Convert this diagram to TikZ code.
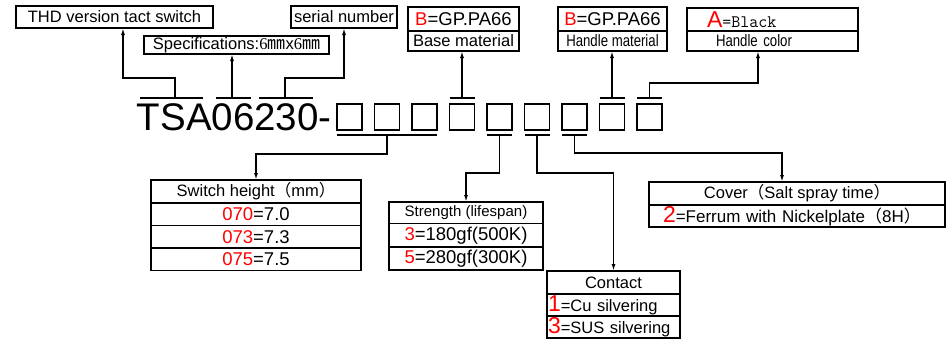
\documentclass[tikz,border=0pt]{standalone}
\usepackage{fontspec}
\setmainfont{Liberation Sans}
\newfontfamily\cjkfont{Noto Sans CJK SC}
\newfontfamily\narrowfont[FakeStretch=0.8]{Liberation Sans}
\newfontfamily\serifnum{Liberation Serif}
\usetikzlibrary{arrows.meta,positioning}

\newcommand{\redbig}[1]{{\fontsize{23}{23}\selectfont\color{red}#1}}

\begin{document}
\begin{tikzpicture}[
        x=1pt,
        y=-1pt,
        line width=1.7pt,
        cell/.style={
            draw,
            inner sep=0pt,
            outer sep=0pt,
            anchor=north west,
            font=\fontsize{16.5}{18}\selectfont,
        },
        cell-left/.style={
            cell,
            text width=#1,
            align=left,
        },
        cell-big/.style={
            font=\fontsize{18.5}{20}\selectfont,
        },
        square/.style={
            draw,
            inner sep=0pt,
            outer sep=0pt,
            anchor=north west,
            minimum width=25pt,
            minimum height=26pt,
        },
        link/.style={
            -{Latex[length=7pt,width=4pt]},
        },
    ]
    \useasboundingbox (0,0) rectangle (951,340);

    % Top boxes.
    \node[cell, minimum width=197pt, minimum height=22pt] (thd) at (16,6) {THD version tact switch};
    \node[cell, minimum width=185pt, minimum height=18pt] (spec) at (144,36) {Specifications:{\serifnum 6}{\cjkfont\fontsize{18}{18}\selectfont ㎜}x{\serifnum 6}{\cjkfont\fontsize{18}{18}\selectfont ㎜}};
    \node[cell, minimum width=106pt, minimum height=22pt] (serial) at (291,6) {serial number};

    \node[cell, cell-big, minimum width=111pt, minimum height=24pt] (base1) at (408,7) {\textcolor{red}{B}=GP.PA66};
    \node[cell, minimum width=111pt, minimum height=20pt, below right=0pt of base1.south west] (base2) {Base material};

    \node[cell, cell-big, minimum width=109pt, minimum height=24pt] (hm1) at (558,7) {\textcolor{red}{B}=GP.PA66};
    \node[cell, minimum width=109pt, minimum height=20pt, below right=0pt of hm1.south west] (hm2) {\narrowfont Handle material};

    \node[cell-left=171pt, minimum height=23pt] (hc1) at (687,8) {\hspace*{20pt}\redbig{A}{\ttfamily\fontsize{17.5}{17.5}\selectfont =Black}};
    \node[cell-left=171pt, minimum height=20pt, below right=0pt of hc1.south west] (hc2) {\hspace*{29pt}\narrowfont Handle color};

    % Part number.
    \node[anchor=base west, inner sep=0pt, font=\fontsize{38.5}{38.5}\selectfont] (code) at (136,130) {TSA06230-};
    \foreach \i in {1,...,9}
    \node[square] (sq\i) at ({337+37.5*(\i-1)},104) {};

    % Marks over and under the part number.
    \coordinate (m1) at (175,98);
    \coordinate (m2) at (232,98);
    \coordinate (m3) at (285,98);
    \draw ([xshift=-35pt]m1) -- ([xshift=28pt]m1);
    \draw ([xshift=-16pt]m2) -- ([xshift=19pt]m2);
    \draw ([xshift=-26pt]m3) -- ([xshift=28pt]m3);

    \foreach \i in {4,8,9} {
        \coordinate (o\i) at ([yshift=6pt]sq\i.north);
        \draw ([yshift=6pt]sq\i.north west) -- ([yshift=6pt]sq\i.north east);
    }
    \draw ([yshift=-5pt]sq1.south west) -- ([yshift=-5pt]sq3.south east);
    \coordinate (u2) at ([yshift=-5pt]sq2.south);
    \foreach \i in {5,6,7} {
        \coordinate (u\i) at ([yshift=-5pt]sq\i.south);
        \draw ([yshift=-5pt]sq\i.south west) -- ([yshift=-5pt]sq\i.south east);
    }

    % Bottom boxes.
    \node[cell, minimum width=210pt, minimum height=23pt] (sh1) at (151,180) {Switch height{\cjkfont（}mm{\cjkfont）}};
    \node[cell, cell-big, minimum width=210pt, minimum height=22.5pt, below right=0pt of sh1.south west] (sh2) {\textcolor{red}{070}=7.0};
    \node[cell, cell-big, minimum width=210pt, minimum height=22.5pt, below right=0pt of sh2.south west] (sh3) {\textcolor{red}{073}=7.3};
    \node[cell, cell-big, minimum width=210pt, minimum height=22.5pt, below right=0pt of sh3.south west] (sh4) {\textcolor{red}{075}=7.5};

    \node[cell, font=\fontsize{15}{16}\selectfont, minimum width=154pt, minimum height=21.5pt] (st1) at (389,202) {Strength (lifespan)};
    \node[cell, cell-big, minimum width=154pt, minimum height=23.5pt, below right=0pt of st1.south west] (st2) {\textcolor{red}{3}=180gf(500K)};
    \node[cell, cell-big, minimum width=154pt, minimum height=23pt, below right=0pt of st2.south west] (st3) {\textcolor{red}{5}=280gf(300K)};

    \node[cell, minimum width=133pt, minimum height=23pt] (ct1) at (547,271) {Contact};
    \node[cell-left=133pt, minimum height=22pt, below right=0pt of ct1.south west] (ct2) {\hspace*{1pt}\redbig{1}=Cu silvering};
    \node[cell-left=133pt, minimum height=22pt, below right=0pt of ct2.south west] (ct3) {\hspace*{1pt}\redbig{3}=SUS silvering};

    \node[cell, minimum width=296pt, minimum height=23pt] (cv1) at (649,182) {Cover{\cjkfont（}Salt spray time{\cjkfont）}};
    \node[cell-left=296pt, minimum height=22pt, font=\fontsize{17}{18}\selectfont, below right=0pt of cv1.south west] (cv2) {\hspace*{14pt}\redbig{2}=Ferrum with Nickelplate{\cjkfont（}8H{\cjkfont）}};

    % Links up to the top boxes.
    \draw[link] (m1) -- ++(0,-20) -| ([xshift=8.5pt]thd.south);
    \draw[link] (m2) -- (m2 |- spec.south);
    \draw[link] (m3) -- ++(0,-20) -| (serial.south);
    \draw[link] (o4) -- (o4 |- base2.south);
    \draw[link] (o8) -- (o8 |- hm2.south);
    \draw[link] (o9) -- ++(0,-15) -| ([xshift=-14.5pt]hc2.south);

    % Links down to the bottom boxes.
    \draw[link] (u2) -- ++(0,19) -| (sh1.north);
    \draw[link] (u5) -- ++(0,38) -| (st1.north);
    \draw[link] (u6) -- ++(0,38) -| (ct1.north);
    \draw[link] (u7) -- ++(0,18) -| ([xshift=-15pt]cv1.north);
\end{tikzpicture}
\end{document}
